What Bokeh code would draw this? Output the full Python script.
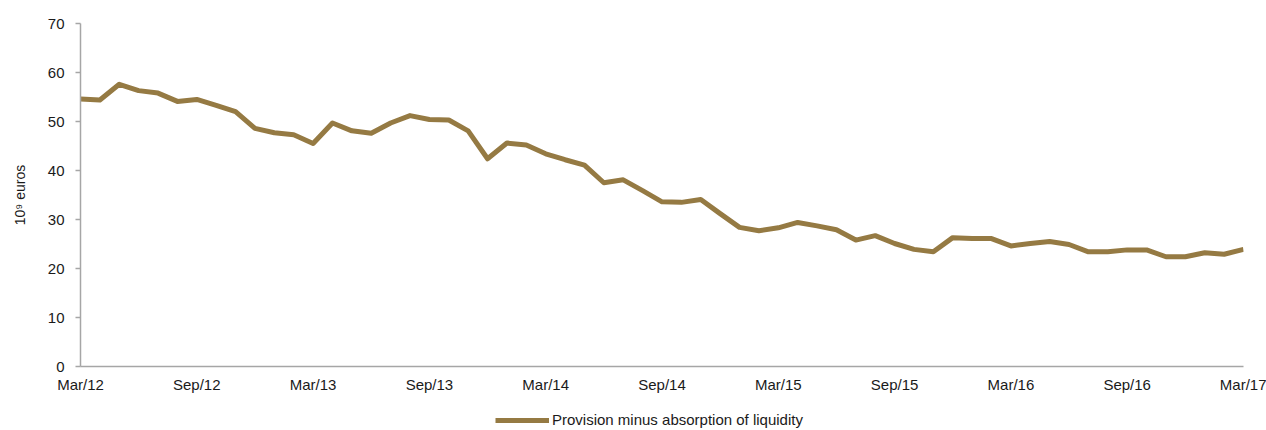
from bokeh.plotting import figure
from bokeh.layouts import column
from bokeh.models import FixedTicker, Legend, LegendItem, ColumnDataSource
from bokeh.embed import file_html
from bokeh.resources import INLINE

tick_labels = ["Mar/12", "Sep/12", "Mar/13", "Sep/13", "Mar/14", "Sep/14",
               "Mar/15", "Sep/15", "Mar/16", "Sep/16", "Mar/17"]
series_name = "Provision minus absorption of liquidity"
liquidity = [54.6, 54.4, 57.6, 56.3, 55.8, 54.1, 54.5, 53.3, 52.0, 48.6,
             47.7, 47.3, 45.5, 49.7, 48.1, 47.6, 49.7, 51.2, 50.4, 50.3,
             48.1, 42.4, 45.6, 45.2, 43.4, 42.2, 41.1, 37.5, 38.1, 35.9,
             33.6, 33.5, 34.1, 31.2, 28.4, 27.7, 28.3, 29.4, 28.7, 27.9,
             25.8, 26.7, 25.1, 23.9, 23.4, 26.3, 26.1, 26.1, 24.6, 25.1,
             25.5, 24.9, 23.4, 23.4, 23.8, 23.8, 22.4, 22.4, 23.2, 22.9, 23.9]
months = list(range(len(liquidity)))

FONT = "Liberation Sans"
TXT = "#1a1a1a"
AX = "#a6a6a6"
LINE = "#957a43"

p = figure(width=1266, height=400, output_backend="svg", toolbar_location=None,
           x_range=(0, 60), y_range=(0, 70),
           min_border_left=80, min_border_right=23, min_border_top=23,
           min_border_bottom=34)
p.outline_line_color = None
p.xgrid.grid_line_color = None
p.ygrid.grid_line_color = None

src = ColumnDataSource(dict(x=months, y=liquidity))
r = p.line("x", "y", source=src, line_color=LINE, line_width=5,
           line_join="round")

# x axis
p.xaxis.ticker = FixedTicker(ticks=[i * 6 for i in range(len(tick_labels))])
p.xaxis.major_label_overrides = {i * 6: lab for i, lab in enumerate(tick_labels)}
p.xaxis.major_tick_line_color = None
p.xaxis.major_tick_out = 0
p.xaxis.major_tick_in = 0
p.xaxis.minor_tick_line_color = None
p.xaxis.axis_line_color = AX
p.xaxis.axis_line_width = 1.5
p.xaxis.major_label_text_font = FONT
p.xaxis.major_label_text_font_size = "15px"
p.xaxis.major_label_text_color = TXT
p.xaxis.major_label_standoff = 9

# y axis
p.yaxis.ticker = FixedTicker(ticks=list(range(0, 71, 10)))
p.yaxis.minor_tick_line_color = None
p.yaxis.axis_line_color = AX
p.yaxis.axis_line_width = 1.5
p.yaxis.major_tick_line_color = AX
p.yaxis.major_tick_line_width = 1.5
p.yaxis.major_tick_out = 5
p.yaxis.major_tick_in = 0
p.yaxis.major_label_text_font = FONT
p.yaxis.major_label_text_font_size = "15px"
p.yaxis.major_label_text_color = TXT
p.yaxis.major_label_standoff = 11
p.yaxis.axis_label = "10\u2079 euros"
p.yaxis.axis_label_text_font = FONT
p.yaxis.axis_label_text_font_size = "14px"
p.yaxis.axis_label_text_font_style = "normal"
p.yaxis.axis_label_text_color = TXT
p.yaxis.axis_label_standoff = 17

# legend strip below the chart
lg = figure(width=1266, height=30, output_backend="svg", toolbar_location=None,
            x_range=(0, 1), y_range=(0, 1), x_axis_type=None, y_axis_type=None,
            min_border_left=0, min_border_right=0, min_border_top=0,
            min_border_bottom=0)
lg.outline_line_color = None
lg.xgrid.grid_line_color = None
lg.ygrid.grid_line_color = None
key = lg.line(x=[float("nan")], y=[float("nan")], line_color=LINE, line_width=5)

legend = Legend(items=[LegendItem(label=series_name, renderers=[key])],
                orientation="horizontal", location=(415, 2),
                border_line_color=None, background_fill_alpha=0,
                label_text_font=FONT, label_text_font_size="15px",
                label_text_color=TXT, glyph_width=54, glyph_height=16,
                label_standoff=3, padding=0, margin=0)
lg.add_layout(legend, "center")

layout = column(p, lg, spacing=0)
open("out.html", "w").write(file_html(layout, INLINE))
